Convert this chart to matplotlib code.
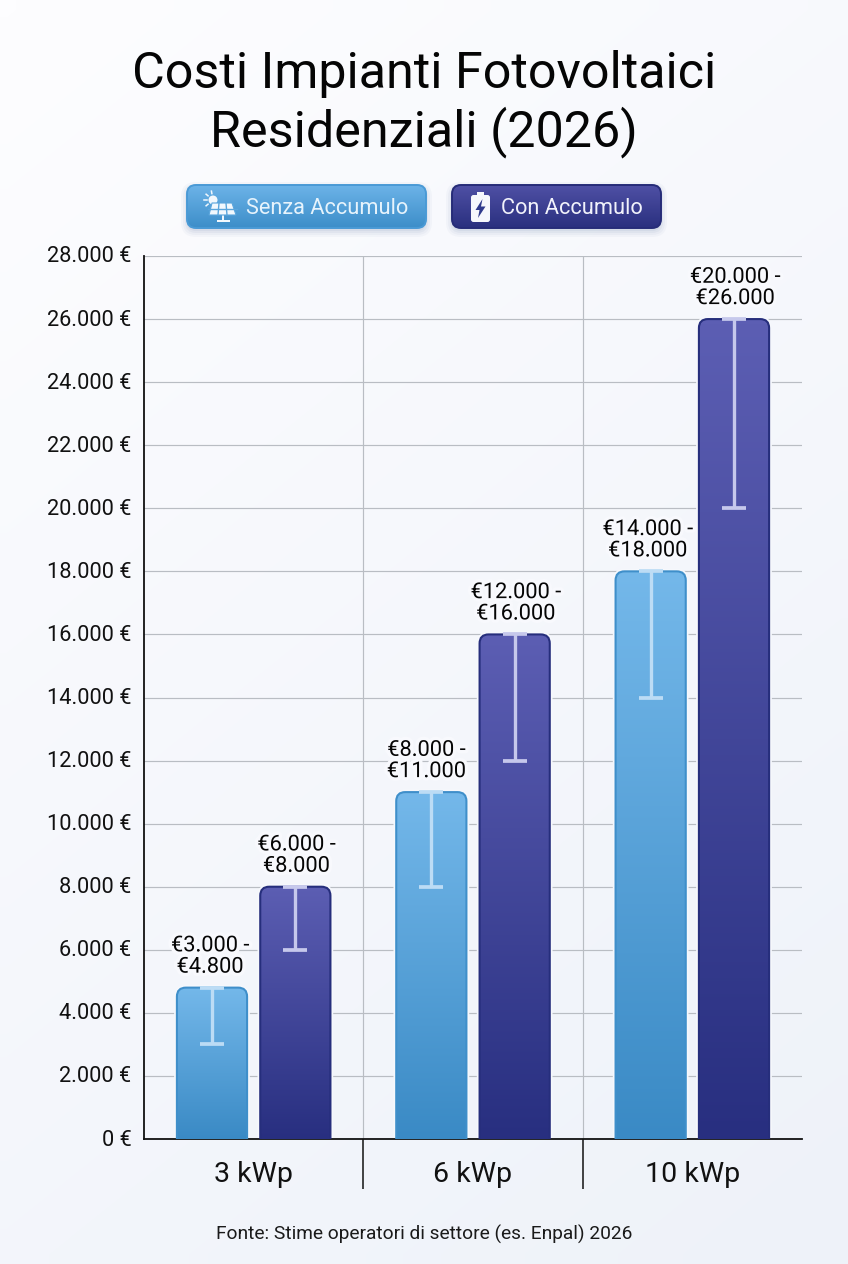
import numpy as np
import matplotlib
matplotlib.use("Agg")
import matplotlib.pyplot as plt
import matplotlib.patheffects as pe
from matplotlib.colors import LinearSegmentedColormap
from matplotlib.patches import FancyBboxPatch, Polygon, Circle, Rectangle
from matplotlib.transforms import ScaledTranslation

plt.rcParams['font.family'] = ['Roboto', 'DejaVu Sans']

# Data
categories = ["3 kWp", "6 kWp", "10 kWp"]
senza_low = [3000, 8000, 14000]
senza_high = [4800, 11000, 18000]
con_low = [6000, 12000, 20000]
con_high = [8000, 16000, 26000]
y_ticks = list(range(0, 28001, 2000))

W, H = 848, 1264
BAR_W = 0.32
OFFSET = 0.19


def euro(v):
    return f"{v:,}".replace(",", ".")


def gradient_cmap(top, bottom):
    return LinearSegmentedColormap.from_list("grad", [bottom, top])


fig = plt.figure(figsize=(W / 100, H / 100), dpi=100)

# Page background
bg = fig.add_axes([0, 0, 1, 1], zorder=0)
bg_col = LinearSegmentedColormap.from_list("bg", ["#fdfdff", "#eef2f9"])
yy, xx = np.mgrid[0:1:64j, 0:1:64j]
bg.imshow(0.35 * xx + 0.65 * yy, cmap=bg_col, vmin=0, vmax=1, aspect="auto",
          extent=[0, W, H, 0], interpolation="bilinear")
bg.set_xlim(0, W)
bg.set_ylim(H, 0)
bg.axis("off")

# Main axes
ax = fig.add_axes([144 / W, (H - 1139) / H, 658 / W, 883 / H], zorder=1)
ax.patch.set_alpha(0)
ax.set_xlim(-0.5, 2.5)
ax.set_ylim(0, 28000)

x_unit = 658 / 3
y_unit = 883 / 28000
aspect = x_unit / y_unit


def draw_bar(x, low, high, top, bottom, edge, cap_col):
    # soft pale halo around the bar
    halo = FancyBboxPatch((x - BAR_W / 2, -2000), BAR_W, high + 2000,
                          boxstyle=f"round,pad=0,rounding_size={9 / x_unit}",
                          mutation_aspect=aspect, fc="none", ec="#f6f8fc",
                          lw=4, zorder=2.5)
    ax.add_patch(halo)
    shape = FancyBboxPatch((x - BAR_W / 2, -2000), BAR_W, high + 2000,
                           boxstyle=f"round,pad=0,rounding_size={9 / x_unit}",
                           mutation_aspect=aspect, fc="none", ec=edge,
                           lw=1.5, zorder=4)
    ax.add_patch(shape)
    im = ax.imshow(np.linspace(1, 0, 256).reshape(-1, 1), cmap=gradient_cmap(top, bottom),
                   extent=[x - BAR_W / 2, x + BAR_W / 2, 0, high], aspect="auto",
                   zorder=3, interpolation="bilinear")
    im.set_clip_path(shape)
    ax.errorbar([x], [high], yerr=[[high - low], [0]], fmt="none", ecolor=cap_col,
                elinewidth=2.4, capsize=8.5, capthick=2.7, zorder=5)


label_shift = [-2, -5, -3]
for i in range(3):
    draw_bar(i - OFFSET, senza_low[i], senza_high[i], "#74b8ea", "#3a8ac5", "#3f8fca", "#bcdcf5")
    draw_bar(i + OFFSET, con_low[i], con_high[i], "#5c5eb3", "#282f80", "#262e7c", "#c6c8ec")
    for x, low, high, shift in [(i - OFFSET, senza_low[i], senza_high[i], label_shift[i]),
                                (i + OFFSET, con_low[i], con_high[i], 1)]:
        ax.annotate(f"€{euro(low)} -\n€{euro(high)}", xy=(x, high), xytext=(shift, 10),
                    textcoords="offset pixels", ha="center", va="bottom", fontsize=15.7,
                    color="#050505", linespacing=1.02, zorder=6,
                    path_effects=[pe.withStroke(linewidth=5, foreground="#f8f9fd")])

ax.set_xticks(range(3), categories)
ax.set_xticks([0.5, 1.5], minor=True)
ax.set_yticks(y_ticks, [f"{euro(v)} €" for v in y_ticks])
ax.grid(True, axis="y", color="#b9bdc3", lw=0.85, zorder=1)
ax.grid(True, axis="x", which="minor", color="#b9bdc3", lw=0.85, zorder=1)
ax.grid(False, axis="x", which="major")
ax.tick_params(axis="y", length=0, pad=9, labelsize=15.7, labelcolor="#111111")
ax.tick_params(axis="x", which="major", length=0, pad=16, labelsize=20.5, labelcolor="#111111")
ax.tick_params(axis="x", which="minor", length=36, width=1.1, color="#111111")
# nudge the y labels up a little
for lab in ax.get_yticklabels():
    lab.set_transform(lab.get_transform() + ScaledTranslation(0, 1.5 / 100, fig.dpi_scale_trans))
for s in ["top", "right"]:
    ax.spines[s].set_visible(False)
for s in ["left", "bottom"]:
    ax.spines[s].set_color("#111111")
    ax.spines[s].set_linewidth(1.3)

# Title, legend and footer on a pixel-sized overlay
top = fig.add_axes([0, 0, 1, 1], zorder=2)
top.set_xlim(0, W)
top.set_ylim(H, 0)
top.axis("off")
top.patch.set_alpha(0)

top.text(424, 74, "Costi Impianti Fotovoltaici", ha="center", va="center", fontsize=36.2, color="#050505")
top.text(424, 132, "Residenziali (2026)", ha="center", va="center", fontsize=36.2, color="#050505")
top.text(424, 1234, "Fonte: Stime operatori di settore (es. Enpal) 2026", ha="center", va="center",
         fontsize=13.8, color="#1a1a1a")


def legend_button(x0, x1, y0, y1, c_top, c_bottom, edge):
    for grow, a in [(6, 0.03), (4, 0.04), (2, 0.05), (0, 0.06)]:
        top.add_patch(FancyBboxPatch((x0 - grow, y0 + 3 - grow), x1 - x0 + 2 * grow, y1 - y0 + 2 * grow,
                                     boxstyle=f"round,pad=0,rounding_size={9 + grow}",
                                     fc="#33508a", ec="none", alpha=a))
    box = FancyBboxPatch((x0, y0), x1 - x0, y1 - y0, boxstyle="round,pad=0,rounding_size=9",
                         fc="none", ec=edge, lw=1.4, zorder=3)
    top.add_patch(box)
    im = top.imshow(np.linspace(1, 0, 64).reshape(-1, 1), cmap=gradient_cmap(c_top, c_bottom),
                    extent=[x0, x1, y1, y0], aspect="auto", zorder=2, interpolation="bilinear")
    im.set_clip_path(box)
    top.set_xlim(0, W)
    top.set_ylim(H, 0)


legend_button(187, 426, 185, 228, "#6cb3e8", "#3d8ec9", "#4a9ad6")
legend_button(452, 661, 185, 228, "#4f50a5", "#2a307f", "#262c78")
top.text(327, 209, "Senza Accumulo", ha="center", va="center", fontsize=15.7, color="#e6f3fc", zorder=5)
top.text(571.5, 209, "Con Accumulo", ha="center", va="center", fontsize=15.7, color="#f1f2fb", zorder=5)

# Solar panel icon
ICON = "#f2f8fd"
top.add_patch(Circle((213, 200), 4.5, fc=ICON, ec="none", zorder=5))
for a in np.deg2rad([100, 140, 180, 220, 265, 310]):
    top.plot([213 + 6.5 * np.cos(a), 213 + 9 * np.cos(a)], [200 - 6.5 * np.sin(a), 200 - 9 * np.sin(a)],
             color=ICON, lw=1.1, zorder=5)
top.add_patch(Polygon([[212, 203], [232, 203], [236, 215], [209, 215]], fc=ICON, ec="#5aa5dc",
                      lw=0.8, zorder=6))
top.plot([208, 237], [209, 209], color="#5aa5dc", lw=1, zorder=7)
for xa, xb in [(219, 218), (226, 227)]:
    top.plot([xa, xb], [203, 215], color="#5aa5dc", lw=1, zorder=7)
top.add_patch(Rectangle((221.5, 215), 2.5, 6, fc=ICON, ec="none", zorder=5))
top.add_patch(Rectangle((217, 220), 13, 2, fc=ICON, ec="none", zorder=5))

# Battery icon
top.add_patch(FancyBboxPatch((471, 195), 19, 27, boxstyle="round,pad=0,rounding_size=2.5",
                             fc="#f6f7fc", ec="none", zorder=5))
top.add_patch(Rectangle((477, 192), 7, 4, fc="#f6f7fc", ec="none", zorder=5))
top.add_patch(Polygon([[482.5, 199], [475.5, 210], [479.5, 210], [478, 218], [485.5, 206.5], [481, 206.5]],
                      fc="#303a8c", ec="none", zorder=6))

fig.savefig("out.png", dpi=100)
